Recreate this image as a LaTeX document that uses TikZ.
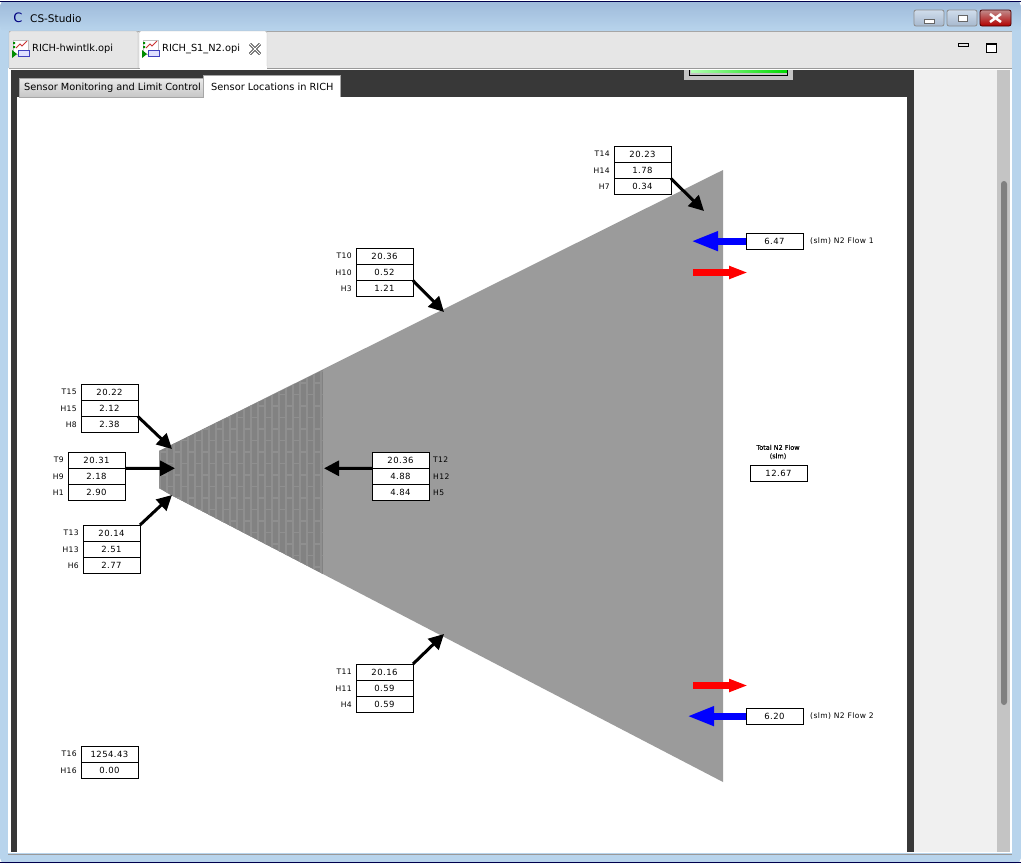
\documentclass[tikz,border=0pt]{standalone}
\usepackage{fontspec}
\setmainfont{DejaVu Sans}
\newfontfamily\readfont[LetterSpace=5]{DejaVu Sans}
\newfontfamily\headfont[FakeBold=0.4]{DejaVu Sans}
\usetikzlibrary{arrows.meta, positioning}
\definecolor{frameblue}{RGB}{184,212,236}
\definecolor{titletop}{RGB}{158,186,218}
\definecolor{btnface}{RGB}{176,198,224}
\definecolor{barface}{RGB}{230,230,230}
\definecolor{panel}{RGB}{56,56,56}
\definecolor{richgray}{RGB}{155,155,155}
\definecolor{brickgray}{RGB}{130,130,130}
\definecolor{jointgray}{RGB}{143,143,143}
\tikzset{
  valbox/.style={draw=black,fill=white,line width=1pt,minimum width=57pt,minimum height=16.3pt,inner sep=0pt,outer sep=0pt,font=\readfont\fontsize{8.5}{9}\selectfont},
  tag/.style={inner sep=0pt,font=\readfont\fontsize{7.6}{9}\selectfont},
  sensorarrow/.style={line width=3pt,-{Triangle[length=15pt,width=15pt]}},
  inarrow/.style={blue,line width=7pt,-{Triangle[length=27pt,width=18pt]}},
  outarrow/.style={red,line width=6.5pt,-{Triangle[length=19pt,width=12pt]}},
  tabtext/.style={anchor=west,inner sep=0pt,font=\fontsize{9.8}{11}\selectfont},
  winbtn/.style={draw=black!45,rounded corners=2pt,line width=0.8pt}
}
% #1-#3 names, #4-#6 readings, #7/#8 top left of the stack, #9 side of the tags
\newcommand{\sensorstack}[9]{
  \node[valbox,anchor=north west] (#1) at (#7,#8) {#4};
  \node[valbox,below=0pt of #1] (#2) {#5};
  \node[valbox,below=0pt of #2] (#3) {#6};
  \node[tag,#9=4pt of #1] (tag#1) {#1};
  \node[tag,#9=4pt of #2] (tag#2) {#2};
  \node[tag,#9=4pt of #3] (tag#3) {#3};
}
\newcommand{\tabicon}[2]{
  \draw[gray!50,fill=white] (#1+1,#2) rectangle (#1+16,#2+14);
  \draw[red!60!gray,line width=0.8pt] (#1+4,#2+8) -- (#1+8,#2+4) -- (#1+10,#2+6) -- (#1+15,#2+1);
  \draw[blue!50!gray,fill=blue!12] (#1+6,#2+10) rectangle (#1+17,#2+16);
  \fill[green!55!black] (#1,#2+10) -- (#1+5,#2+14) -- (#1,#2+18) -- cycle;
  \fill[green!55!black] (#1+1,#2+2) rectangle (#1+3,#2+4) (#1+1,#2+6) rectangle (#1+3,#2+8);
}

\begin{document}
\begin{tikzpicture}[x=1pt,y=-1pt]
\useasboundingbox (0,0) rectangle (1021,863);
% window frame
\fill[white] (0,0) rectangle (1021,863);
\fill[frameblue,rounded corners=5pt] (0,1) rectangle (1021,863);
\shade[top color=titletop,bottom color=frameblue,rounded corners=5pt] (0,1) rectangle (1021,31);
\draw[black!70!blue,line width=1pt,rounded corners=5pt] (0,1.5) -- (1021,1.5);
\draw[black!70!blue,line width=1pt] (0,862.5) -- (1021,862.5);
\fill[white] (8,68) rectangle (1012,853);
\draw[gray!80,line width=1pt] (8,854) -- (1012,854);
\node[anchor=west,inner sep=0pt,font=\fontsize{10.5}{12}\selectfont] (title) at (30,18.5) {CS-Studio};
\node[anchor=center,inner sep=0pt,text=blue!50!black,font=\fontsize{13}{13}\selectfont] (logo) at (18,17.5) {C};
% window buttons
\shade[winbtn,top color=btnface!60!white,bottom color=btnface!80!gray] (914,10) rectangle (944,26);
\shade[winbtn,top color=btnface!60!white,bottom color=btnface!80!gray] (947,10) rectangle (977,26);
\shade[winbtn,draw=red!30!black,top color=red!30!gray!70!white,bottom color=red!70!black] (980,10) rectangle (1011,26);
\draw[black!60,fill=white] (924,19) rectangle (934,23);
\draw[black!60,fill=white] (958,15) rectangle (967,21);
\draw[white,line width=2.5pt] (990,14) -- (1001,22) (990,22) -- (1001,14);
% editor tab bar
\fill[barface] (9,31) rectangle (1012,68);
\draw[gray!70] (9,31) -- (1012,31);
\draw[gray!80,line width=1pt] (9,68) -- (1012,68);
\draw[gray!60,fill=barface,rounded corners=2pt] (9,68) |- (138,31) -- (138,68);
\draw[gray!60,fill=white,rounded corners=2pt] (139,68) |- (267,31) -- (267,68);
\fill[white] (139.5,66) rectangle (266.5,70);
\tabicon{12}{40}
\tabicon{142}{40}
\node[tabtext] (tabone) at (32,49) {RICH-hwintlk.opi};
\node[tabtext] (tabtwo) at (162,49) {RICH\_S1\_N2.opi};
\draw[black,line width=2.6pt] (250,44) -- (260,54) (250,54) -- (260,44);
\draw[white,line width=1.2pt] (250,44) -- (260,54) (250,54) -- (260,44);
\draw[black,line width=1pt] (958.5,43.5) rectangle (968,46.5);
\draw[black,line width=1pt,fill=white] (986.5,43.5) rectangle (996,52.5);
\draw[black,line width=2pt] (986,44) -- (996.5,44);
% panels
\fill[panel] (11,70) rectangle (914,852);
\fill[white] (17,97) rectangle (907,852);
\fill[black!6] (914,70) rectangle (997,852);
\fill[black!23] (997,70) rectangle (1010,852);
\fill[black!50,rounded corners=3pt] (1001,181) rectangle (1007,705);
% readout poking in at the top
\fill[black!23] (684,70) rectangle (793,80);
\draw[black,line width=1pt] (689.5,70) |- (787.5,75) -- (787.5,70);
\shade[left color=green!30!white,right color=green!85!black] (691,70) rectangle (787,72);
% sub tabs
\shade[draw=gray!70,top color=black!8,bottom color=black!22] (19,78) rectangle (203,97);
\fill[white] (203,75) rectangle (340,97);
\draw[gray!70] (203,97) |- (340,75) -- (340,97);
\node[tabtext] (subone) at (24,88) {Sensor Monitoring and Limit Control};
\node[tabtext] (subtwo) at (211,87) {Sensor Locations in RICH};
% RICH volume
\fill[richgray] (159,451) -- (723,170) -- (723,782) -- (171,495) -- (159,488) -- cycle;
\begin{scope}
\clip (159,451) -- (323,370) -- (323,574) -- (171,495) -- (159,488) -- cycle;
\fill[brickgray] (159,360) rectangle (323,590);
\foreach \i in {0,...,23}{
  \pgfmathsetmacro{\bx}{160+7*\i}
  \pgfmathsetmacro{\by}{360+11.5*mod(\i,2)}
  \draw[jointgray,line width=1.1pt] (\bx,360) -- (\bx,590);
  \foreach \k in {0,...,9}
    \draw[jointgray,line width=1.1pt] (\bx,\by+23*\k) -- (\bx+7,\by+23*\k);
}
\end{scope}
% sensors
\sensorstack{T14}{H14}{H7}{20.23}{1.78}{0.34}{614}{146}{left}
\sensorstack{T10}{H10}{H3}{20.36}{0.52}{1.21}{356}{248}{left}
\sensorstack{T15}{H15}{H8}{20.22}{2.12}{2.38}{81}{384}{left}
\sensorstack{T9}{H9}{H1}{20.31}{2.18}{2.90}{68}{452}{left}
\sensorstack{T13}{H13}{H6}{20.14}{2.51}{2.77}{83}{525}{left}
\sensorstack{T12}{H12}{H5}{20.36}{4.88}{4.84}{372}{452}{right}
\sensorstack{T11}{H11}{H4}{20.16}{0.59}{0.59}{356}{664}{left}
\node[valbox,anchor=north west] (T16) at (81,746) {1254.43};
\node[valbox,below=0pt of T16] (H16) {0.00};
\node[tag,left=4pt of T16] (tagT16) {T16};
\node[tag,left=4pt of H16] (tagH16) {H16};
% flows
\node[valbox,anchor=north west] (flowone) at (746,233) {6.47};
\node[valbox,anchor=north west] (flowtwo) at (746,708) {6.20};
\node[valbox,anchor=north west] (flowtotal) at (750,465) {12.67};
\node[tag,right=7pt of flowone] (tagone) {(slm) N2 Flow 1};
\node[tag,right=7pt of flowtwo] (tagtwo) {(slm) N2 Flow 2};
\node[inner sep=0pt,align=center,font=\headfont\fontsize{6.5}{8.5}\selectfont] (tagtotal) at (778,452) {Total N2 Flow\\(slm)};
% arrow ends
\coordinate (endT14) at (704,211);
\coordinate (endT10) at (444,312);
\coordinate (endT15) at (172,449);
\coordinate (endT9) at (175,468.3);
\coordinate (endT13) at (172,495);
\coordinate (endT12) at (324,468.3);
\coordinate (endT11) at (444,634);
\coordinate (endone) at (691,241.15);
\coordinate (endtwo) at (687,716.15);
\coordinate (outonea) at (693,272.5);
\coordinate (outoneb) at (748,272.5);
\coordinate (outtwoa) at (693,685.5);
\coordinate (outtwob) at (748,685.5);
\draw[sensorarrow] (H14.south east) -- (endT14);
\draw[sensorarrow] (H10.south east) -- (endT10);
\draw[sensorarrow] (H15.south east) -- (endT15);
\draw[sensorarrow] (H9.north east) -- (endT9);
\draw[sensorarrow] (T13.north east) -- (endT13);
\draw[sensorarrow] (H12.north west) -- (endT12);
\draw[sensorarrow] (T11.north east) -- (endT11);
\draw[inarrow] (flowone.west) -- (endone);
\draw[inarrow] (flowtwo.west) -- (endtwo);
\draw[outarrow] (outonea) -- (outoneb);
\draw[outarrow] (outtwoa) -- (outtwob);
\end{tikzpicture}
\end{document}
